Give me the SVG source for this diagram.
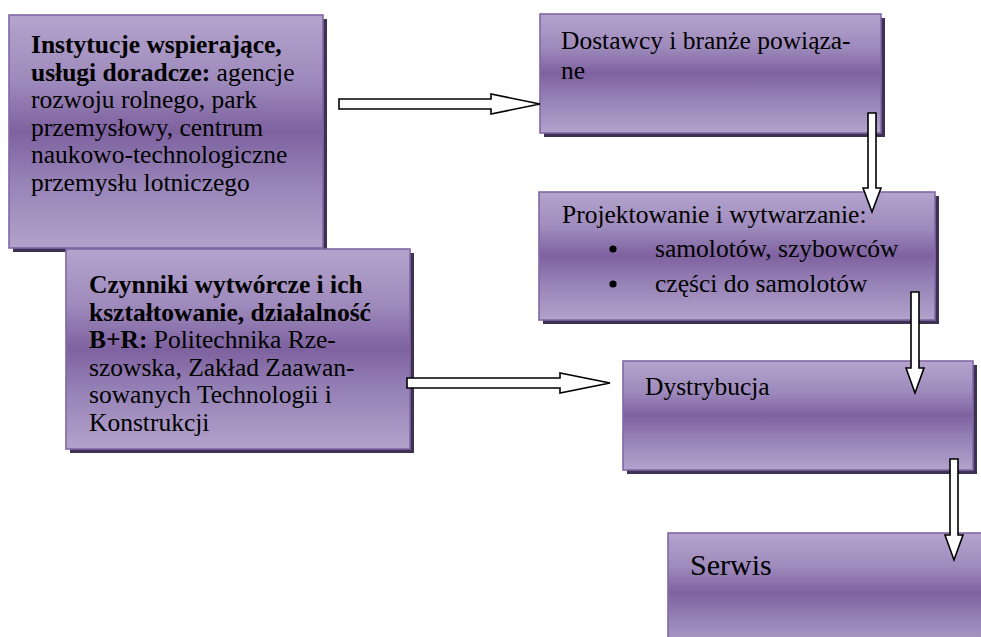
<svg xmlns="http://www.w3.org/2000/svg" width="981" height="637" viewBox="0 0 981 637">
<defs>
<linearGradient id="g" x1="0" y1="0" x2="0" y2="1">
<stop offset="0" stop-color="#b4a4cd"/>
<stop offset="0.28" stop-color="#9e8abc"/>
<stop offset="0.5" stop-color="#7e62a0"/>
<stop offset="0.72" stop-color="#9783b7"/>
<stop offset="1" stop-color="#b2a2cb"/>
</linearGradient>
<style>
.sh{fill:#3f3154}
.bx{fill:url(#g);stroke:#8267a6;stroke-width:1.6}
.t{font-family:"Liberation Serif","Times New Roman",serif;font-size:25.5px;fill:#000}
.b{font-weight:bold}
.ar{fill:#fff;stroke:#000;stroke-width:1.6;stroke-linejoin:miter}
</style>
</defs>
<rect width="981" height="637" fill="#fff"/>
<g id="n1">
<rect class="sh" x="13" y="19" width="314" height="233"/>
<rect class="bx" x="9" y="15" width="314" height="233"/>
<text class="t"><tspan x="31" y="53" class="b">Instytucje wspierające,</tspan><tspan x="31" y="80.5"><tspan class="b">usługi doradcze:</tspan> agencje</tspan><tspan x="31" y="108">rozwoju rolnego, park</tspan><tspan x="31" y="135.5">przemysłowy, centrum</tspan><tspan x="31" y="163">naukowo-technologiczne</tspan><tspan x="31" y="190.5">przemysłu lotniczego</tspan></text>
</g>
<g id="n2">
<rect class="sh" x="70" y="253" width="344" height="200"/>
<rect class="bx" x="66" y="249" width="344" height="200"/>
<text class="t"><tspan x="89" y="293" class="b">Czynniki wytwórcze i ich</tspan><tspan x="89" y="320.5" class="b">kształtowanie, działalność</tspan><tspan x="89" y="348"><tspan class="b">B+R:</tspan> Politechnika Rze-</tspan><tspan x="89" y="375.5">szowska, Zakład Zaawan-</tspan><tspan x="89" y="403">sowanych Technologii i</tspan><tspan x="89" y="430.5">Konstrukcji</tspan></text>
</g>
<g id="n3">
<rect class="sh" x="544" y="18" width="341" height="119"/>
<rect class="bx" x="540" y="14" width="341" height="119"/>
<text class="t"><tspan x="561" y="49">Dostawcy i branże powiąza-</tspan><tspan x="561" y="79">ne</tspan></text>
</g>
<g id="n4">
<rect class="sh" x="543" y="196" width="396" height="128"/>
<rect class="bx" x="539" y="192" width="396" height="128"/>
<text class="t"><tspan x="562" y="223">Projektowanie i wytwarzanie:</tspan><tspan x="655" y="257">samolotów, szybowców</tspan><tspan x="655" y="292">części do samolotów</tspan></text>
<circle cx="613" cy="249" r="3.6" fill="#000"/>
<circle cx="613" cy="284" r="3.6" fill="#000"/>
</g>
<g id="n5">
<rect class="sh" x="627" y="365" width="350" height="109"/>
<rect class="bx" x="623" y="361" width="350" height="109"/>
<text class="t" x="645" y="395">Dystrybucja</text>
</g>
<g id="n6">
<rect class="bx" x="668" y="533" width="330" height="120"/>
<text class="t" x="690" y="575" style="font-size:30px">Serwis</text>
</g>
<g id="connectors">
<polygon class="ar" points="339,99 491,99 491,94 540,104 491,114 491,109 339,109"/>
<polygon class="ar" points="868,113 876,113 876,188 881,188 872,212 863,188 868,188"/>
<polygon class="ar" points="911,292 919,292 919,368 924,368 915,393 906,368 911,368"/>
<polygon class="ar" points="407,378 560,378 560,373 610,383 560,393 560,388 407,388"/>
<polygon class="ar" points="950,459 958,459 958,535 963,535 954,560 945,535 950,535"/>
</g>
</svg>
